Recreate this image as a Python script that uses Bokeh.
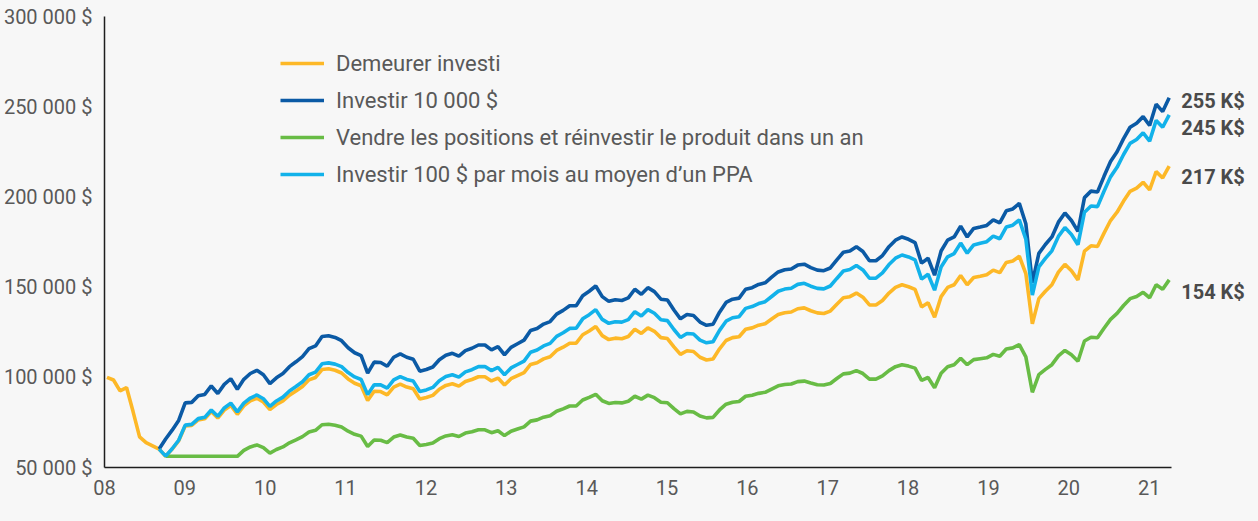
import numpy as np
from bokeh.plotting import figure
from bokeh.models import Range1d, FixedTicker, Legend, LegendItem, ColumnDataSource, GlobalInlineStyleSheet
from bokeh.embed import file_html
from bokeh.resources import INLINE
from bokeh.core.properties import value

nan = float("nan")

# ---------------- data (values in thousands of $) ----------------
year_ticks = [2008, 2009, 2010, 2011, 2012, 2013, 2014, 2015, 2016, 2017, 2018, 2019, 2020, 2021]
year_labels = ["08", "09", "10", "11", "12", "13", "14", "15", "16", "17", "18", "19", "20", "21"]
value_ticks = [50, 100, 150, 200, 250, 300]
value_labels = ["50 000 $", "100 000 $", "150 000 $", "200 000 $", "250 000 $", "300 000 $"]

series_names = [
    "Demeurer investi",
    "Investir 10 000 $",
    "Vendre les positions et réinvestir le produit dans un an",
    "Investir 100 $ par mois au moyen d\u2019un PPA",
]

demeurer = [
    100.0, 98.5, 92.5, 94.3, 81.0, 67.0, 63.8, 62.0, 60.2,
    56.2, 60.2, 64.8, 73.0, 73.3, 76.4, 77.0, 81.0, 77.4, 81.8, 84.4,
    79.5, 84.2, 86.9, 88.4, 86.3, 82.1, 84.9, 86.9, 90.1, 92.4,
    94.9, 98.6, 99.9, 104.3, 104.7, 103.9, 102.4, 99.1, 96.7, 95.3,
    87.1, 92.3, 92.1, 90.3, 94.6, 96.2, 94.6, 93.6, 88.0, 88.8,
    90.0, 93.4, 95.5, 96.4, 95.1, 97.7, 98.8, 100.3, 100.3, 98.0,
    99.6, 95.7, 99.2, 100.9, 102.6, 107.1, 108.1, 110.2, 111.4, 114.9,
    116.7, 118.9, 118.9, 123.6, 125.7, 128.2, 123.1, 120.9, 121.7, 121.4,
    122.6, 126.6, 124.3, 127.4, 125.5, 122.0, 121.5, 116.9, 112.7, 114.7,
    114.3, 111.1, 109.6, 110.1, 115.8, 120.4, 122.0, 122.5, 126.6, 127.4,
    128.9, 129.7, 132.3, 134.8, 135.8, 136.2, 138.0, 138.5, 136.9, 135.7,
    135.4, 136.7, 140.5, 144.1, 144.7, 146.7, 144.4, 140.1, 140.1, 142.6,
    146.7, 149.8, 151.3, 150.2, 148.7, 139.0, 141.3, 133.3, 144.7, 149.8,
    151.3, 156.4, 151.3, 155.3, 156.0, 156.8, 159.4, 158.0, 163.7, 164.5,
    167.1, 157.5, 129.7, 143.6, 147.7, 151.3, 158.3, 162.6, 159.1, 154.0,
    169.9, 172.9, 172.5, 179.9, 186.9, 191.5, 197.7, 203.1, 204.9, 208.1,
    203.9, 214.0, 210.5, 217.0,
]

investir_10000 = [
    nan, nan, nan, nan, nan, nan, nan, nan, 60.2,
    65.8, 70.7, 76.1, 85.8, 86.1, 89.8, 90.5, 95.2, 91.0, 96.1, 99.2,
    93.4, 98.9, 102.1, 103.9, 101.4, 96.5, 99.7, 102.1, 105.9, 108.6,
    111.5, 115.9, 117.4, 122.6, 123.0, 122.1, 120.3, 116.4, 113.6, 112.0,
    102.3, 108.4, 108.2, 106.1, 111.1, 113.0, 111.1, 110.0, 103.4, 104.3,
    105.7, 109.7, 112.2, 113.3, 111.7, 114.8, 116.1, 117.9, 117.9, 115.2,
    117.0, 112.5, 116.6, 118.6, 120.6, 125.9, 127.0, 129.5, 130.9, 135.0,
    137.1, 139.7, 139.7, 145.2, 147.7, 150.6, 144.7, 142.1, 143.0, 142.6,
    144.0, 148.8, 146.0, 149.7, 147.5, 143.3, 142.8, 137.3, 132.4, 134.8,
    134.3, 130.6, 128.8, 129.4, 136.1, 141.5, 143.3, 143.9, 148.8, 149.7,
    151.5, 152.4, 155.5, 158.4, 159.6, 160.0, 162.2, 162.7, 160.8, 159.4,
    159.1, 160.6, 165.1, 169.3, 170.0, 172.4, 169.7, 164.6, 164.6, 167.5,
    172.4, 176.0, 177.8, 176.5, 174.7, 163.3, 166.0, 156.6, 170.0, 176.0,
    177.8, 183.8, 177.8, 182.5, 183.3, 184.2, 187.3, 185.6, 192.3, 193.3,
    196.4, 185.1, 152.4, 168.7, 173.6, 177.8, 186.0, 191.1, 186.9, 180.9,
    199.6, 203.2, 202.7, 211.4, 219.6, 225.0, 232.3, 238.6, 240.8, 244.5,
    239.6, 251.4, 247.3, 255.0,
]

vendre = [
    nan, nan, nan, nan, nan, nan, nan, nan, nan,
    56.2, 56.2, 56.2, 56.2, 56.2, 56.2, 56.2, 56.2, 56.2, 56.2, 56.2,
    56.2, 59.5, 61.4, 62.5, 61.0, 58.0, 60.0, 61.4, 63.7, 65.3,
    67.1, 69.7, 70.6, 73.7, 74.0, 73.4, 72.4, 70.1, 68.4, 67.4,
    61.6, 65.2, 65.1, 63.8, 66.9, 68.0, 66.9, 66.2, 62.2, 62.8,
    63.6, 66.0, 67.5, 68.1, 67.2, 69.1, 69.8, 70.9, 70.9, 69.3,
    70.4, 67.7, 70.1, 71.3, 72.5, 75.7, 76.4, 77.9, 78.7, 81.2,
    82.5, 84.1, 84.1, 87.4, 88.9, 90.6, 87.0, 85.5, 86.0, 85.8,
    86.7, 89.5, 87.9, 90.1, 88.7, 86.2, 85.9, 82.6, 79.7, 81.1,
    80.8, 78.5, 77.5, 77.8, 81.9, 85.1, 86.2, 86.6, 89.5, 90.1,
    91.1, 91.7, 93.5, 95.3, 96.0, 96.3, 97.6, 97.9, 96.8, 95.9,
    95.7, 96.6, 99.3, 101.9, 102.3, 103.7, 102.1, 99.0, 99.0, 100.8,
    103.7, 105.9, 107.0, 106.2, 105.1, 98.3, 99.9, 94.2, 102.3, 105.9,
    107.0, 110.6, 107.0, 109.8, 110.3, 110.8, 112.7, 111.7, 115.7, 116.3,
    118.1, 111.3, 91.7, 101.5, 104.4, 107.0, 111.9, 114.9, 112.5, 108.9,
    120.1, 122.2, 121.9, 127.2, 132.1, 135.4, 139.8, 143.6, 144.8, 147.1,
    144.1, 151.3, 148.8, 154.0,
]

investir_ppa = [
    nan, nan, nan, nan, nan, nan, nan, nan, 60.2,
    56.3, 60.4, 65.1, 73.5, 73.9, 77.1, 77.8, 81.9, 78.4, 83.0, 85.7,
    80.8, 85.7, 88.5, 90.2, 88.1, 83.9, 86.9, 89.0, 92.4, 94.9,
    97.5, 101.4, 102.9, 107.5, 108.0, 107.3, 105.9, 102.6, 100.2, 98.8,
    90.4, 95.9, 95.8, 94.0, 98.6, 100.4, 98.8, 97.9, 92.1, 93.0,
    94.4, 98.1, 100.4, 101.4, 100.1, 103.0, 104.2, 105.9, 106.0, 103.7,
    105.5, 101.4, 105.2, 107.1, 109.0, 113.9, 115.1, 117.4, 118.8, 122.7,
    124.7, 127.1, 127.2, 132.4, 134.7, 137.5, 132.1, 129.9, 130.8, 130.6,
    132.0, 136.4, 134.0, 137.5, 135.5, 131.9, 131.4, 126.5, 122.1, 124.3,
    124.0, 120.6, 119.1, 119.7, 126.0, 131.1, 133.0, 133.6, 138.2, 139.2,
    140.9, 141.9, 144.8, 147.7, 148.9, 149.4, 151.5, 152.1, 150.5, 149.3,
    149.0, 150.6, 154.8, 158.9, 159.7, 162.0, 159.5, 154.9, 155.0, 157.9,
    162.5, 166.0, 167.8, 166.7, 165.1, 154.4, 157.1, 148.3, 161.1, 166.8,
    168.6, 174.4, 168.8, 173.4, 174.3, 175.2, 178.3, 176.8, 183.3, 184.3,
    187.3, 176.6, 145.6, 161.2, 165.9, 170.1, 178.1, 183.0, 179.2, 173.5,
    191.5, 195.0, 194.6, 203.1, 211.1, 216.4, 223.5, 229.7, 231.8, 235.5,
    230.9, 242.4, 238.6, 245.5,
]

end_labels = ["255 K$", "245 K$", "217 K$", "154 K$"]

# period covered by the monthly observations (decimal years on the axis)
period = np.linspace(2008.031, 2021.249, len(demeurer))
axis_start, axis_end = 2008.0, 2021.275

# ---------------- styling ----------------
FONT = "Roboto"
BG = "#f7f7f7"
TXT = "#595959"
colors = ["#FDB827", "#0B5AA5", "#68BC45", "#12B2EA"]

FRAME_W = 1150                       # frame runs to the right edge; axis line is bounded
px_per_year = 1070.5 / (axis_end - axis_start)

p = figure(
    width=1250, height=505,
    output_backend="svg", toolbar_location=None,
    x_range=Range1d(axis_start, axis_start + FRAME_W / px_per_year),
    y_range=Range1d(50, 300),
    min_border_left=100, min_border_right=0, min_border_top=16, min_border_bottom=38,
    background_fill_color=BG, border_fill_color=BG, outline_line_color=None,
)
p.stylesheets = [GlobalInlineStyleSheet(css="html, body { background-color: %s; }" % BG)]
p.xgrid.visible = False
p.ygrid.visible = False

for ax in (p.xaxis[0], p.yaxis[0]):
    ax.major_tick_line_color = None
    ax.minor_tick_line_color = None
    ax.major_tick_out = 0
    ax.major_tick_in = 0
    ax.minor_tick_out = 0
    ax.axis_line_color = "#1e1e1e"
    ax.axis_line_width = 1.5
    ax.major_label_text_font = FONT
    ax.major_label_text_font_size = "20px"
    ax.major_label_text_color = TXT
    ax.major_label_standoff = 12

p.xaxis[0].bounds = (axis_start, axis_end)
p.xaxis[0].ticker = FixedTicker(ticks=year_ticks)
p.xaxis[0].major_label_overrides = dict(zip(year_ticks, year_labels))
p.yaxis[0].ticker = FixedTicker(ticks=value_ticks)
p.yaxis[0].major_label_overrides = dict(zip(value_ticks, value_labels))

src = ColumnDataSource(dict(
    x=period,
    demeurer=demeurer, investir_10000=investir_10000,
    vendre=vendre, investir_ppa=investir_ppa,
))

draw_order = [("demeurer", 0), ("vendre", 2), ("investir_10000", 1), ("investir_ppa", 3)]
renderers = {}
for col, idx in draw_order:
    renderers[idx] = p.line("x", col, source=src, line_color=colors[idx], line_width=3.6)

items = [LegendItem(label=series_names[k], renderers=[renderers[k]]) for k in range(4)]
legend = Legend(
    items=items, location=(176, 280), orientation="vertical",
    border_line_color=None, background_fill_alpha=0,
    label_text_font=FONT, label_text_font_size="22px", label_text_color=TXT,
    glyph_width=44, glyph_height=26, label_height=26, spacing=11,
    padding=0, margin=0, label_standoff=12,
)
p.add_layout(legend)

end_values = [investir_10000[-1], investir_ppa[-1], demeurer[-1], vendre[-1]]
lab_src = ColumnDataSource(dict(
    x=[period[-1]] * 4, y=end_values, text=end_labels, dy=[3, 13, 11, 12],
))
p.text(x="x", y="y", text="text", source=lab_src, x_offset=12, y_offset="dy",
       text_baseline="middle", text_align="left",
       text_font=value(FONT), text_font_style="bold", text_font_size="20px",
       text_color="#4a4a4a")

open("out.html", "w").write(file_html(p, INLINE))
